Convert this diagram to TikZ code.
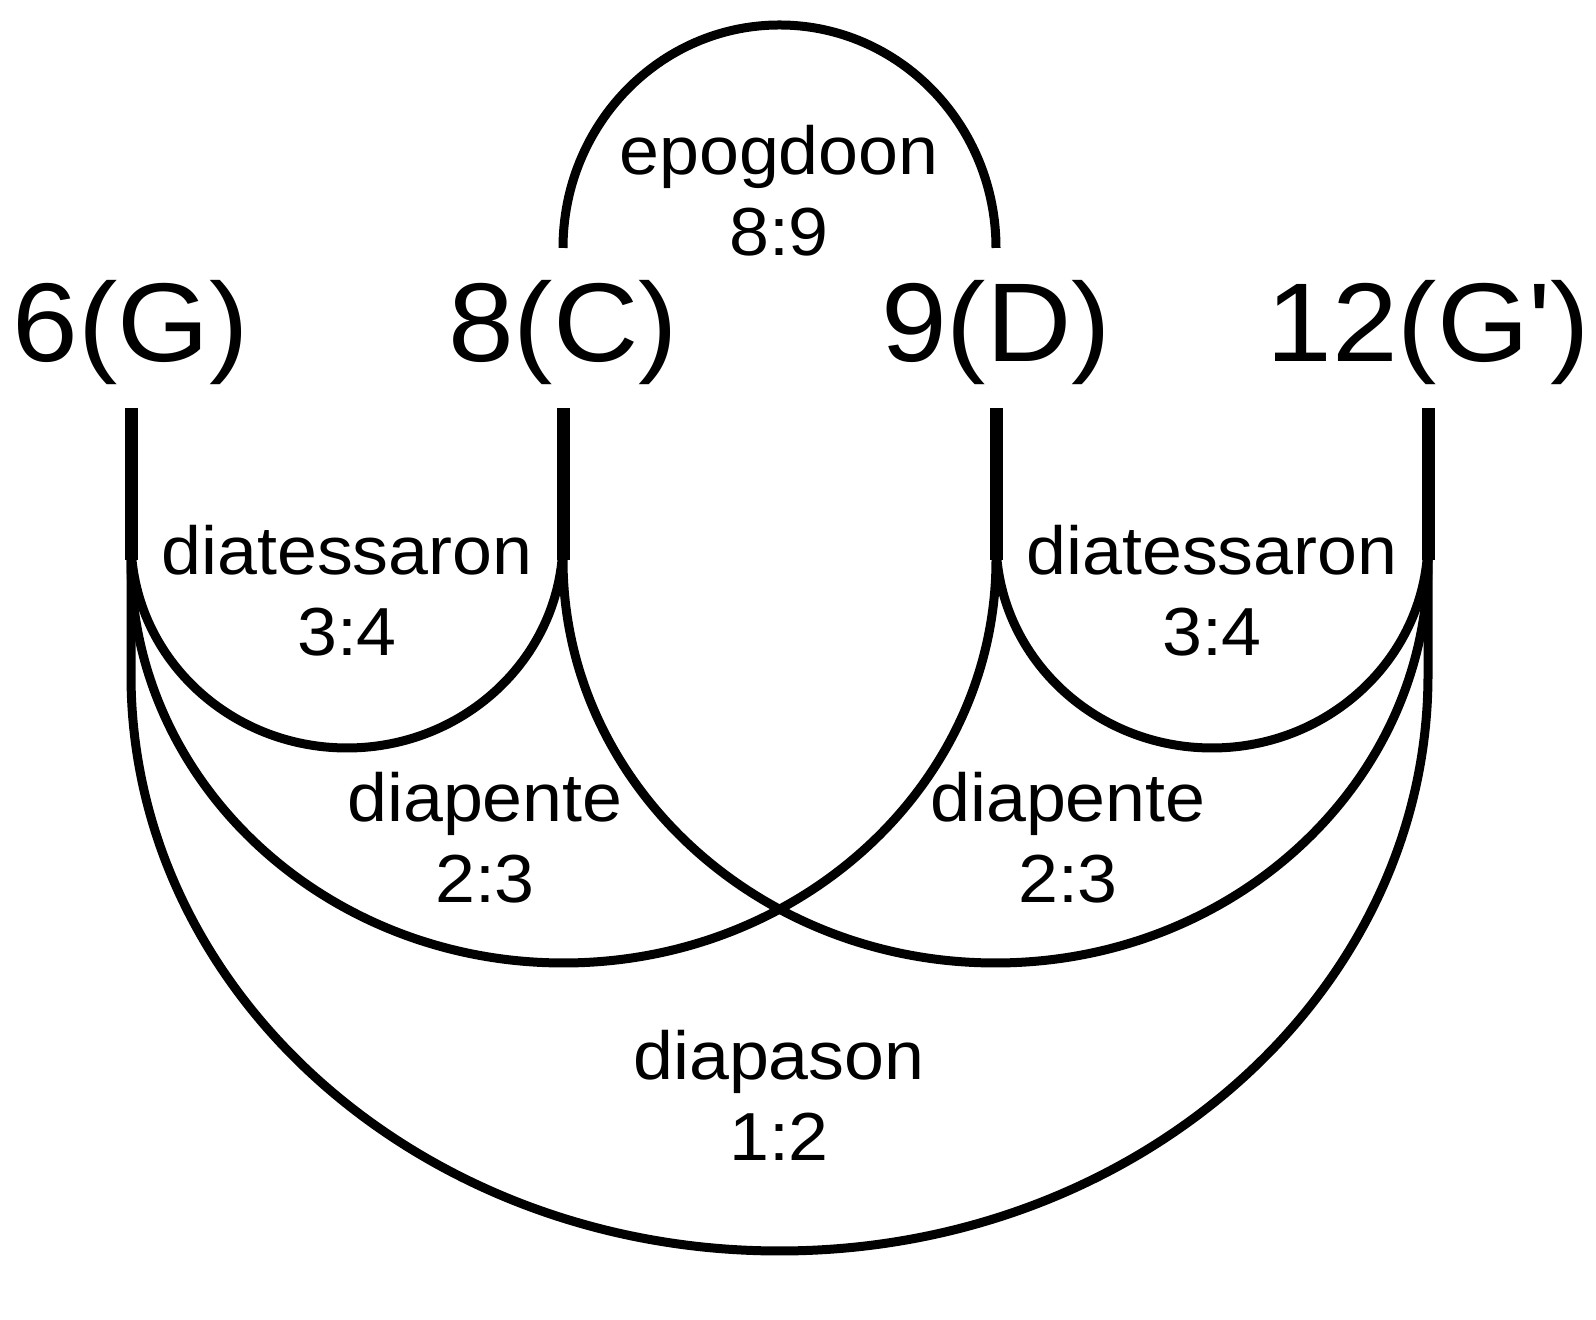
\documentclass[tikz,border=0pt]{standalone}
\usepackage{fontspec}
\setmainfont{Liberation Sans}
\newfontfamily\widesans{Liberation Sans}[FakeStretch=1.055]

\begin{document}
\begin{tikzpicture}[x=0.5pt, y=0.5pt,
    note/.style={font=\widesans\fontsize{56}{60}\selectfont, inner sep=0pt, anchor=base},
    ratio/.style={font=\widesans\fontsize{34}{36}\selectfont, inner sep=0pt, anchor=base},
    stem/.style={line width=6.5pt},
    bow/.style={line width=4.5pt}]
  \useasboundingbox (0,0) rectangle (1596,1320);

  % the four notes with their stems
  \foreach \nm/\xx/\txt in {G/131/6(G), C/563/8(C), D/996/9(D), Gp/1428/12(G\textquotesingle)} {
    \node[note] (\nm-label) at (\xx,958) {\txt};
    \coordinate (\nm) at (\xx,760);
    \coordinate (\nm-up) at (\xx,1072);
    \draw[stem] (\xx,912) -- (\nm);
  }

  % intervals
  \draw[bow] (C-up) arc[start angle=180, end angle=0, x radius=216.5, y radius=223];
  \draw[bow] (G) ++(0,20) arc[start angle=180, end angle=360, x radius=216, y radius=208];
  \draw[bow] (D) ++(0,20) arc[start angle=180, end angle=360, x radius=216, y radius=208];
  \draw[bow] (G) arc[start angle=180, end angle=360, x radius=432.5, y radius=403];
  \draw[bow] (C) arc[start angle=180, end angle=360, x radius=432.5, y radius=403];
  \draw[bow] (G) -- ++(0,-115) arc[start angle=180, end angle=360, x radius=648.5, y radius=576] -- (Gp);

  % names and ratios
  \foreach \nm/\xx/\yy/\word/\rat in {epo/779/1145/epogdoon/8:9,
      tetL/347/745/diatessaron/3:4, tetR/1212/745/diatessaron/3:4,
      pentL/485/498/diapente/2:3, pentR/1068/498/diapente/2:3,
      oct/779/240/diapason/1:2} {
    \node[ratio] (\nm) at (\xx,\yy) {\word};
    \node[ratio] (\nm-r) at (\xx,\yy-81) {\rat};
  }
\end{tikzpicture}
\end{document}
